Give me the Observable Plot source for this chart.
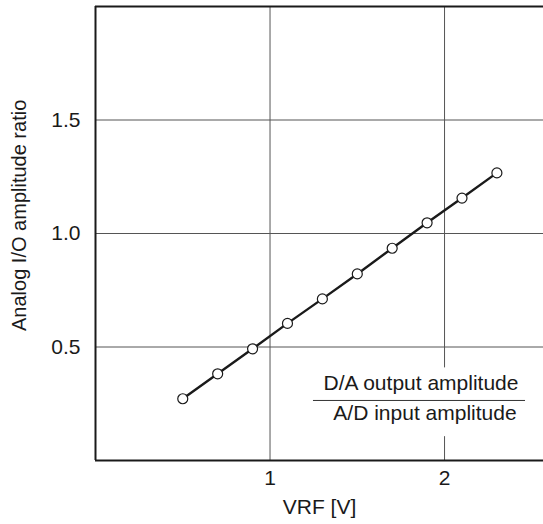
<!DOCTYPE html>
<html><head><meta charset="utf-8">
<script src="https://cdn.jsdelivr.net/npm/d3@7"></script>
<script src="https://cdn.jsdelivr.net/npm/@observablehq/plot@0.6"></script>
<style>html,body{margin:0;padding:0;background:#fff}</style>
</head><body><div id="chart"></div>
<script>
// Data
const vrf = [0.5, 0.7, 0.9, 1.1, 1.3, 1.5, 1.7, 1.9, 2.1, 2.3];
const ratio = [0.272, 0.382, 0.492, 0.604, 0.712, 0.822, 0.935, 1.047, 1.156, 1.267];
const xTicks = [1, 2];
const yTicks = [0.5, 1.0, 1.5];
const xLabel = "VRF [V]";
const yLabel = "Analog I/O amplitude ratio";
const noteTop = "D/A output amplitude";
const noteBottom = "A/D input amplitude";

const data = vrf.map((x, i) => ({x, y: ratio[i]}));
const noteBox = {x1: 1.25, x2: 2.47, y1: 0.105, y2: 0.408};
const font = "'Liberation Sans', Arial, Helvetica, sans-serif";
const ink = "#1a1a1a";

const chart = Plot.plot({
  width: 543, height: 524,
  marginLeft: 95, marginRight: 0, marginTop: 6, marginBottom: 64,
  style: {fontFamily: font, fontSize: "20px", background: "#fff", color: ink},
  x: {domain: [0, 2.567]},
  y: {domain: [0, 2]},
  marks: [
    Plot.gridX(xTicks, {stroke: "#555", strokeOpacity: 1, strokeWidth: 1}),
    Plot.gridY(yTicks, {stroke: "#555", strokeOpacity: 1, strokeWidth: 1}),
    Plot.rect([noteBox], {x1: "x1", x2: "x2", y1: "y1", y2: "y2", fill: "white"}),
    Plot.ruleY([0.2645], {x1: 1.249, x2: 2.464, stroke: "#333", strokeWidth: 1}),
    Plot.text([noteTop], {x: 1.865, y: 0.342, text: d => d, fill: ink, fontSize: 21, lineAnchor: "middle"}),
    Plot.text([noteBottom], {x: 1.888, y: 0.206, text: d => d, fill: ink, fontSize: 21, lineAnchor: "middle"}),
    Plot.ruleY([0], {stroke: ink, strokeWidth: 2}),
    Plot.ruleY([2], {stroke: ink, strokeWidth: 2}),
    Plot.ruleX([0], {stroke: ink, strokeWidth: 2}),
    Plot.line(data, {x: "x", y: "y", stroke: ink, strokeWidth: 2.4}),
    Plot.dot(data, {x: "x", y: "y", r: 5, fill: "white", stroke: ink, strokeWidth: 1.2}),
    Plot.axisX(xTicks, {tickSize: 0, tickPadding: 10, tickFormat: d3.format("d"), label: null, fontSize: 21, fill: ink}),
    Plot.axisY(yTicks, {tickSize: 0, tickPadding: 15, tickFormat: d3.format(".1f"), label: null, fontSize: 21, fill: ink}),
    Plot.text([xLabel], {frameAnchor: "bottom", dy: 47, text: d => d, fill: ink, fontSize: 21, lineAnchor: "middle"}),
    Plot.text([yLabel], {x: 0, y: 1.08, dx: -76, rotate: -90, text: d => d, fill: ink, fontSize: 20, lineAnchor: "middle"})
  ]
});
document.getElementById("chart").appendChild(chart);
</script>
</body></html>
